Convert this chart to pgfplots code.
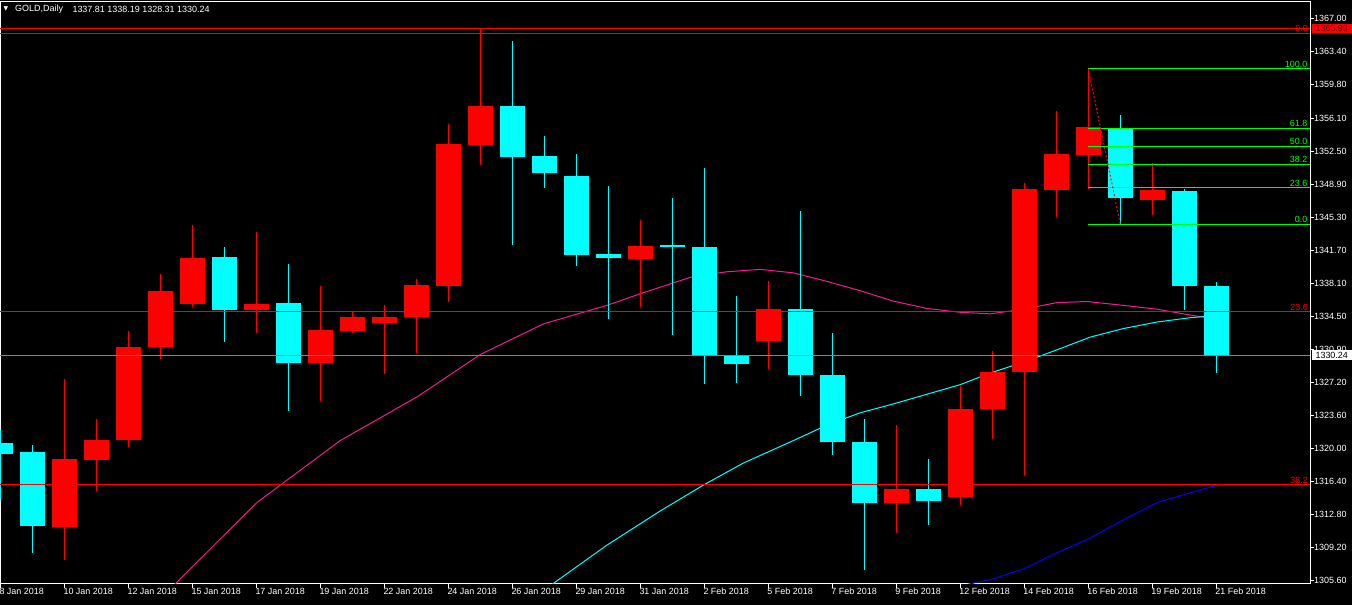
\documentclass[border=0pt]{standalone}
\usepackage{fontspec}
\setmainfont{Liberation Sans}
\newfontfamily\dejavu{DejaVu Sans}
\usepackage{pgfplots}
\usepackage{pgfplotstable}
\pgfplotsset{compat=1.18}

\definecolor{bullc}{RGB}{255,0,0}
\definecolor{bearc}{RGB}{0,255,255}
\definecolor{mapink}{RGB}{240,30,140}
\definecolor{mablue}{RGB}{0,0,255}
\definecolor{fibgreen}{RGB}{0,255,0}
\definecolor{pricegray}{RGB}{128,134,145}
\definecolor{darklbl}{RGB}{100,0,0}

\newcommand{\lbl}{\fontsize{9}{10}\selectfont}

% bullish candles (red): index, open, high, low, close
\pgfplotstableread{
i O H L C
2 1311.51 1327.64 1307.88 1318.90
3 1318.82 1323.29 1315.40 1320.97
4 1320.93 1332.92 1320.25 1331.15
5 1331.11 1339.13 1329.76 1337.27
6 1335.88 1344.49 1335.54 1340.90
8 1335.16 1343.73 1332.71 1335.88
10 1329.33 1337.82 1325.28 1333.01
11 1332.92 1335.12 1332.63 1334.40
12 1333.81 1335.67 1328.15 1334.40
13 1334.36 1338.58 1330.43 1337.95
14 1337.82 1355.47 1336.01 1353.28
15 1353.19 1365.93 1351.00 1357.42
20 1340.74 1345.04 1335.46 1342.21
24 1331.74 1338.37 1328.70 1335.33
28 1314.13 1322.62 1310.84 1315.61
30 1314.76 1326.84 1313.92 1324.39
31 1324.31 1330.73 1321.02 1328.40
32 1328.36 1349.10 1317.09 1348.34
33 1348.30 1356.87 1345.38 1352.18
34 1352.10 1361.51 1348.42 1355.14
36 1347.15 1351.21 1345.51 1348.25
}\bulltab

% bearish candles (cyan)
\pgfplotstableread{
i O H L C
0 1320.63 1322.03 1314.55 1319.49
1 1319.66 1320.42 1308.64 1311.60
7 1340.90 1342.09 1331.66 1335.16
9 1335.88 1340.23 1324.10 1329.33
16 1357.42 1364.60 1342.26 1351.88
17 1351.97 1354.17 1348.55 1350.15
18 1349.86 1352.18 1340.02 1341.16
19 1341.24 1348.76 1334.15 1340.82
21 1342.17 1347.37 1332.42 1342.17
22 1342.09 1350.74 1327.14 1330.09
23 1330.18 1336.72 1327.22 1329.25
25 1335.33 1345.93 1325.74 1328.02
26 1328.11 1332.63 1319.33 1320.80
27 1320.80 1323.21 1306.78 1314.13
29 1315.61 1318.90 1311.72 1314.34
35 1354.97 1356.45 1344.54 1347.37
37 1348.13 1348.34 1335.12 1337.74
38 1337.81 1338.19 1328.31 1330.24
}\beartab

% moving averages
\pgfplotstableread{
x y
4.69 1302.55
5.47 1305.26
8.02 1314.13
10.62 1320.89
13.02 1325.66
15.00 1330.30
16.97 1333.64
18.96 1335.67
20.00 1336.94
21.66 1338.84
22.71 1339.34
23.75 1339.60
24.78 1339.22
25.83 1338.29
26.87 1337.27
27.91 1336.13
28.96 1335.33
30.00 1334.91
30.94 1334.74
31.97 1335.25
33.02 1335.97
33.96 1336.09
35.09 1335.67
36.15 1335.25
37.19 1334.61
38.02 1334.15
}\mapinktab

\pgfplotstableread{
x y
16.56 1303.50
17.27 1305.26
18.96 1309.48
20.62 1313.20
21.97 1316.03
23.22 1318.44
24.78 1320.89
25.83 1322.58
26.87 1323.93
27.91 1324.90
28.96 1325.96
30.00 1327.01
30.94 1328.28
31.97 1329.46
33.02 1330.81
34.06 1332.20
35.09 1333.13
36.15 1333.85
37.19 1334.32
38.02 1334.55
}\macyantab

\pgfplotstableread{
x y
29.38 1304.60
30.94 1305.69
31.97 1306.87
33.02 1308.64
34.06 1310.25
35.09 1312.23
36.15 1314.13
37.19 1315.19
38.02 1316.03
}\mabluetab

\begin{document}
\begin{tikzpicture}[x=1bp,y=1bp]
\useasboundingbox (0,-21.3) rectangle (1352,583.7);
\fill[black] (-2,-24) rectangle (1355,586);
\begin{axis}[
  at={(0bp,0bp)}, anchor=south west,
  scale only axis, width=1310bp, height=582.5bp,
  xmin=-0.01, xmax=40.93, ymin=1305.26, ymax=1368.90,
  clip mode=individual,
  axis line style={white, line width=1bp},
  tick align=outside, major tick length=4bp,
  every tick/.style={white, line width=1bp},
  xtick pos=left, ytick pos=right,
  yticklabel pos=right,
  xtick={0,2,...,38},
  xticklabels={8 Jan 2018,10 Jan 2018,12 Jan 2018,15 Jan 2018,17 Jan 2018,19 Jan 2018,22 Jan 2018,24 Jan 2018,26 Jan 2018,29 Jan 2018,31 Jan 2018,2 Feb 2018,5 Feb 2018,7 Feb 2018,9 Feb 2018,12 Feb 2018,14 Feb 2018,16 Feb 2018,19 Feb 2018,21 Feb 2018},
  ytick={1305.6,1309.2,1312.8,1316.4,1320.0,1323.6,1327.2,1330.9,1334.5,1338.1,1341.7,1345.3,1348.9,1352.5,1356.1,1359.8,1363.4,1367.0},
  yticklabels={1305.60,1309.20,1312.80,1316.40,1320.00,1323.60,1327.20,1330.90,1334.50,1338.10,1341.70,1345.30,1348.90,1352.50,1356.10,1359.80,1363.40,1367.00},
  xticklabel style={anchor=north west, inner sep=0pt, xshift=-1bp, text=white, font=\lbl},
  yticklabel style={anchor=west, inner sep=0pt, text=white, font=\lbl},
]
% moving averages (behind candles)
\addplot[mapink, line width=1bp, mark=none] table[x=x,y=y] {\mapinktab};
\addplot[bearc, line width=1bp, mark=none] table[x=x,y=y] {\macyantab};
\addplot[mablue, line width=1bp, mark=none] table[x=x,y=y] {\mabluetab};

% wicks
\addplot[draw=none, mark=none, error bars/.cd, y dir=both, y explicit, error mark=none,
  error bar style={draw=bullc, solid, line width=1bp}]
  table[x=i, y expr={(\thisrow{H}+\thisrow{L})/2}, y error expr={(\thisrow{H}-\thisrow{L})/2}] {\bulltab};
\addplot[draw=none, mark=none, error bars/.cd, y dir=both, y explicit, error mark=none,
  error bar style={draw=bearc, solid, line width=1bp}]
  table[x=i, y expr={(\thisrow{H}+\thisrow{L})/2}, y error expr={(\thisrow{H}-\thisrow{L})/2}] {\beartab};
% bodies
\addplot[draw=none, mark=none, error bars/.cd, y dir=both, y explicit, error mark=none,
  error bar style={draw=bullc, solid, line width=25bp}]
  table[x=i, y expr={(\thisrow{O}+\thisrow{C})/2}, y error expr={max(abs(\thisrow{O}-\thisrow{C})/2,0.055)}] {\bulltab};
\addplot[draw=none, mark=none, error bars/.cd, y dir=both, y explicit, error mark=none,
  error bar style={draw=bearc, solid, line width=25bp}]
  table[x=i, y expr={(\thisrow{O}+\thisrow{C})/2}, y error expr={max(abs(\thisrow{O}-\thisrow{C})/2,0.055)}] {\beartab};

% horizontal levels
\addplot[bullc, line width=1bp] coordinates {(-1,1365.93) (42,1365.93)};
\addplot[bullc, line width=1bp] coordinates {(-1,1365.40) (42,1365.40)};
\addplot[bullc, line width=1bp] coordinates {(-1,1334.99) (42,1334.99)};
\addplot[bullc, line width=1bp] coordinates {(-1,1316.07) (42,1316.07)};
\addplot[pricegray, line width=1bp] coordinates {(-1,1330.24) (42,1330.24)};

% small fibonacci
\addplot[fibgreen, line width=1bp] coordinates {(34,1361.51) (41,1361.51)};
\addplot[fibgreen, line width=1bp] coordinates {(34,1354.97) (41,1354.97)};
\addplot[fibgreen, line width=1bp] coordinates {(34,1353.03) (41,1353.03)};
\addplot[fibgreen, line width=1bp] coordinates {(34,1351.04) (41,1351.04)};
\addplot[fibgreen, line width=1bp] coordinates {(34,1348.51) (41,1348.51)};
\addplot[fibgreen, line width=1bp] coordinates {(34,1344.54) (41,1344.54)};
\addplot[bullc, line width=1bp, dash pattern=on 2bp off 2bp] coordinates {(34,1361.51) (35,1344.54)};

% level labels
\node[anchor=south east, inner sep=1bp, text=bullc, font=\lbl] at (axis cs:40.9,1365.40) {0.0};
\node[anchor=south east, inner sep=1bp, text=bullc, font=\lbl] at (axis cs:40.9,1334.99) {23.6};
\node[anchor=south east, inner sep=1bp, text=bullc, font=\lbl] at (axis cs:40.9,1316.07) {38.2};
\node[anchor=south east, inner sep=1.5bp, text=fibgreen, font=\lbl] at (axis cs:40.9,1361.51) {100.0};
\node[anchor=south east, inner sep=1.5bp, text=fibgreen, font=\lbl] at (axis cs:40.9,1354.97) {61.8};
\node[anchor=south east, inner sep=1.5bp, text=fibgreen, font=\lbl] at (axis cs:40.9,1353.03) {50.0};
\node[anchor=south east, inner sep=1.5bp, text=fibgreen, font=\lbl] at (axis cs:40.9,1351.04) {38.2};
\node[anchor=south east, inner sep=1.5bp, text=fibgreen, font=\lbl] at (axis cs:40.9,1348.51) {23.6};
\node[anchor=south east, inner sep=1.5bp, text=fibgreen, font=\lbl] at (axis cs:40.9,1344.54) {0.0};

% header
\node[anchor=west, inner sep=0pt, text=white, font=\dejavu\fontsize{6}{7}\selectfont] at (axis cs:0.10,1368.05) {▼};
\node[anchor=west, inner sep=0pt, text=white, font=\lbl] at (axis cs:0.46,1368.05) {GOLD,Daily};
\node[anchor=west, inner sep=0pt, text=white, font=\lbl] at (axis cs:2.25,1368.05) {1337.81 1338.19 1328.31 1330.24};

\coordinate (pA) at (axis cs:40.93,1365.93);
\coordinate (pB) at (axis cs:40.93,1330.24);
\end{axis}
\node[anchor=west, fill=bullc, text=darklbl, font=\lbl, inner xsep=2bp, inner ysep=0.5bp, minimum width=40bp, minimum height=9.5bp, xshift=1.5bp] at (pA) {1365.93};
\node[anchor=west, fill=white, text=black, font=\lbl, inner xsep=2bp, inner ysep=0.5bp, minimum width=40bp, minimum height=10.5bp, xshift=1.5bp] at (pB) {1330.24};
\end{tikzpicture}
\end{document}
